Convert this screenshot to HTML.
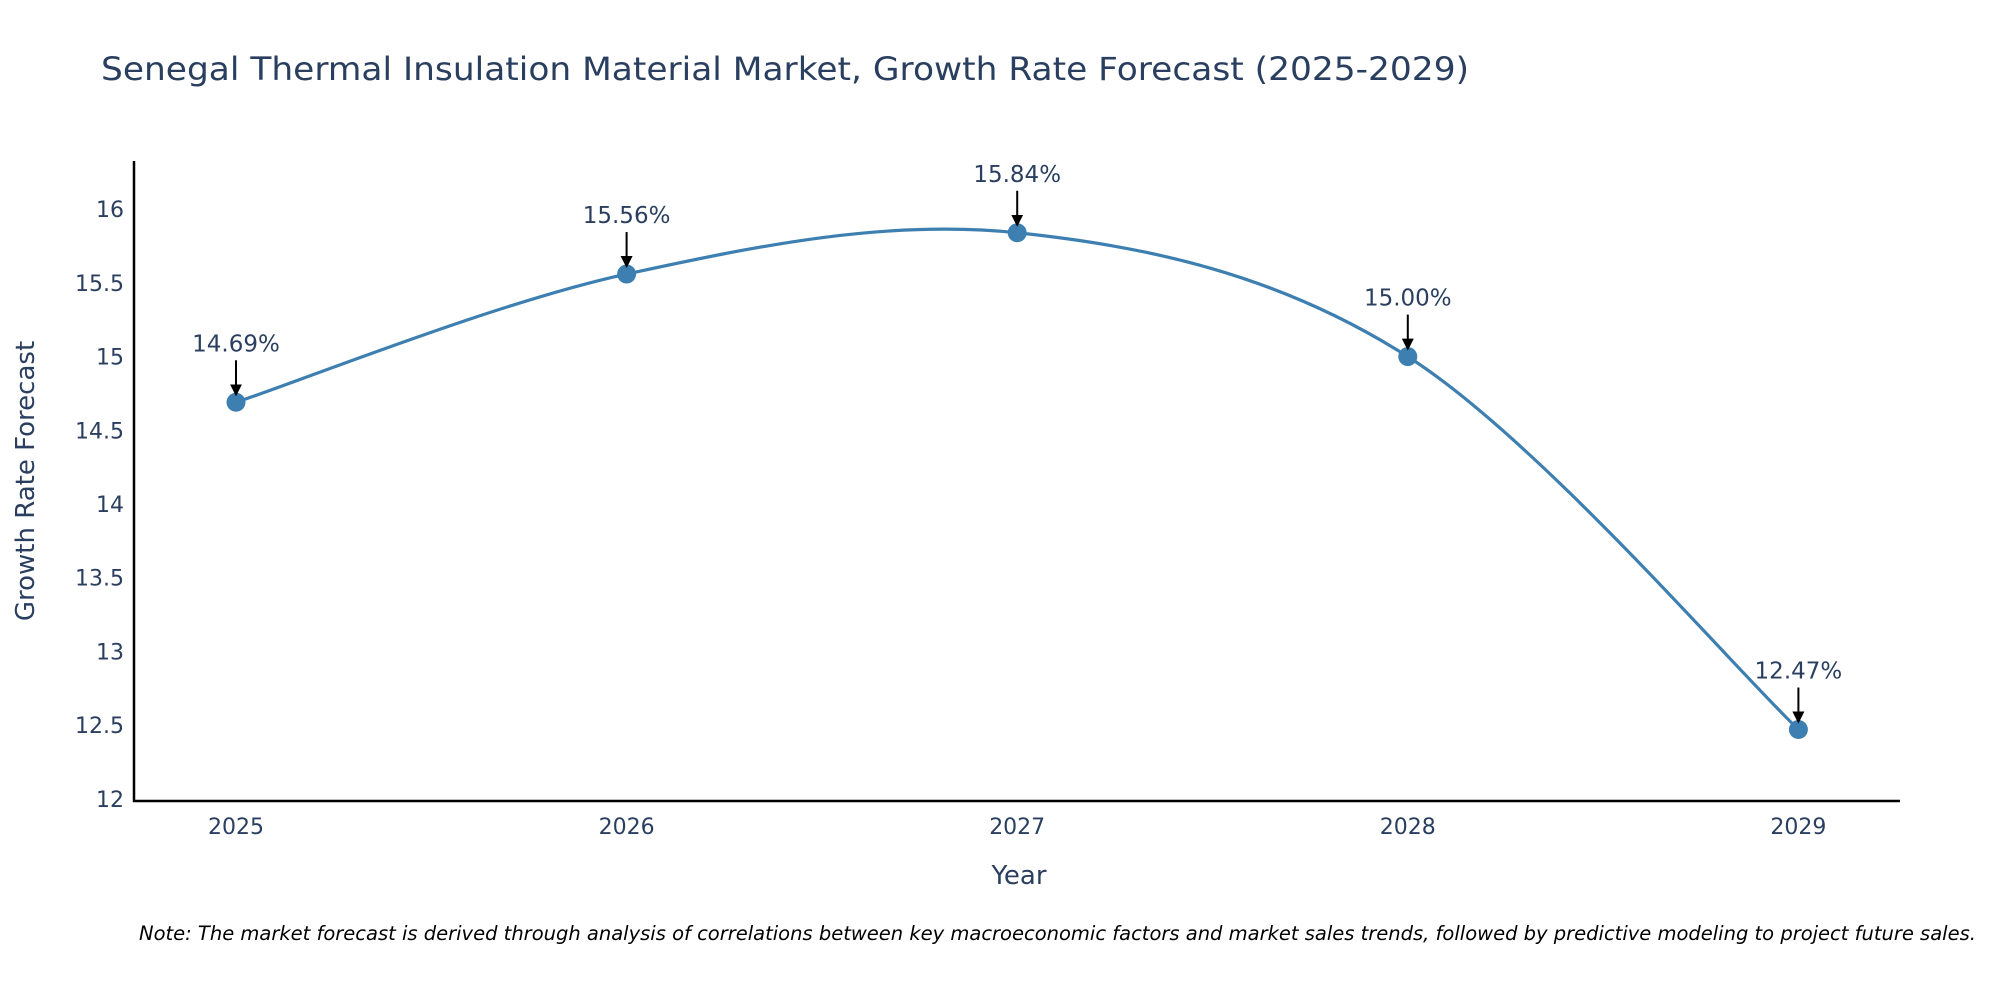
<!DOCTYPE html>
<html><head><meta charset="utf-8"><style>
body{margin:0;background:#fff;}
svg{display:block;font-family:"DejaVu Sans","Liberation Sans",sans-serif;}
</style></head><body>
<svg id="chart" width="2000" height="1000" viewBox="0 0 2000 1000">
<text x="101" y="80" font-size="32" fill="#2a3f5f" textLength="1368" lengthAdjust="spacingAndGlyphs">Senegal Thermal Insulation Material Market, Growth Rate Forecast (2025-2029)</text>
<g id="yticks"></g>
<g id="xticks"></g>
<path id="line" fill="none" stroke="#3d7fb0" stroke-width="3.2"/>
<g id="points"></g>
<g id="annots"></g>
<line x1="134" y1="161" x2="134" y2="802" stroke="#000" stroke-width="2.5"/>
<line x1="133" y1="801" x2="1900" y2="801" stroke="#000" stroke-width="2.5"/>
<text x="1019" y="884" font-size="26" fill="#2a3f5f" text-anchor="middle">Year</text>
<text transform="translate(34,481) rotate(-90)" font-size="26" fill="#2a3f5f" text-anchor="middle">Growth Rate Forecast</text>
<text x="139" y="940" font-size="19.5" font-style="italic" fill="#000">Note: The market forecast is derived through analysis of correlations between key macroeconomic factors and market sales trends, followed by predictive modeling to project future sales.</text>
<defs><marker id="ah" markerWidth="6" markerHeight="6" refX="5" refY="3" orient="auto" markerUnits="strokeWidth"><path d="M0,0 L6,3 L0,6 Z" fill="#000"/></marker></defs>
</svg>
<script>
const categories=["2025","2026","2027","2028","2029"];
const values=[14.69,15.56,15.84,15.00,12.47];
const labels=["14.69%","15.56%","15.84%","15.00%","12.47%"];
const yTicks=[12,12.5,13,13.5,14,14.5,15,15.5,16];
const NS="http://www.w3.org/2000/svg";
const x=i=>236+i*390.6;
const y=v=>801-(v-11.985)*147.4;
function mk(t,a,p){const e=document.createElementNS(NS,t);for(const k in a)e.setAttribute(k,a[k]);p.appendChild(e);return e;}
const yt=document.getElementById('yticks');
yTicks.forEach(v=>{const t=mk('text',{x:124,y:y(v)+8,'font-size':22,fill:'#2a3f5f','text-anchor':'end'},yt);t.textContent=String(v);

});
const xt=document.getElementById('xticks');
categories.forEach((c,i)=>{const t=mk('text',{x:x(i),y:834,'font-size':22,fill:'#2a3f5f','text-anchor':'middle'},xt);t.textContent=c;

});
const P=values.map((v,i)=>[x(i),y(v)]);
let d=`M${P[0][0]},${P[0][1]}`;
for(let i=0;i<P.length-1;i++){const p0=P[Math.max(i-1,0)],p1=P[i],p2=P[i+1],p3=P[Math.min(i+2,P.length-1)];
const c1=[p1[0]+(p2[0]-p0[0])/6,p1[1]+(p2[1]-p0[1])/6],c2=[p2[0]-(p3[0]-p1[0])/6,p2[1]-(p3[1]-p1[1])/6];
d+=` C${c1[0]},${c1[1]} ${c2[0]},${c2[1]} ${p2[0]},${p2[1]}`;}
document.getElementById('line').setAttribute('d',d);
const pts=document.getElementById('points'),an=document.getElementById('annots');
P.forEach((p,i)=>{const c=mk('circle',{cx:p[0],cy:p[1],r:9.5,fill:'#3d7fb0'},pts);


const l=mk('line',{x1:p[0],y1:p[1]-42,x2:p[0],y2:p[1]-8,stroke:'#000','stroke-width':2,'marker-end':'url(#ah)'},an);


const t=mk('text',{x:p[0],y:p[1]-51,'font-size':23,fill:'#2a3f5f','text-anchor':'middle'},an);t.textContent=labels[i];

});
</script>
</body></html>
